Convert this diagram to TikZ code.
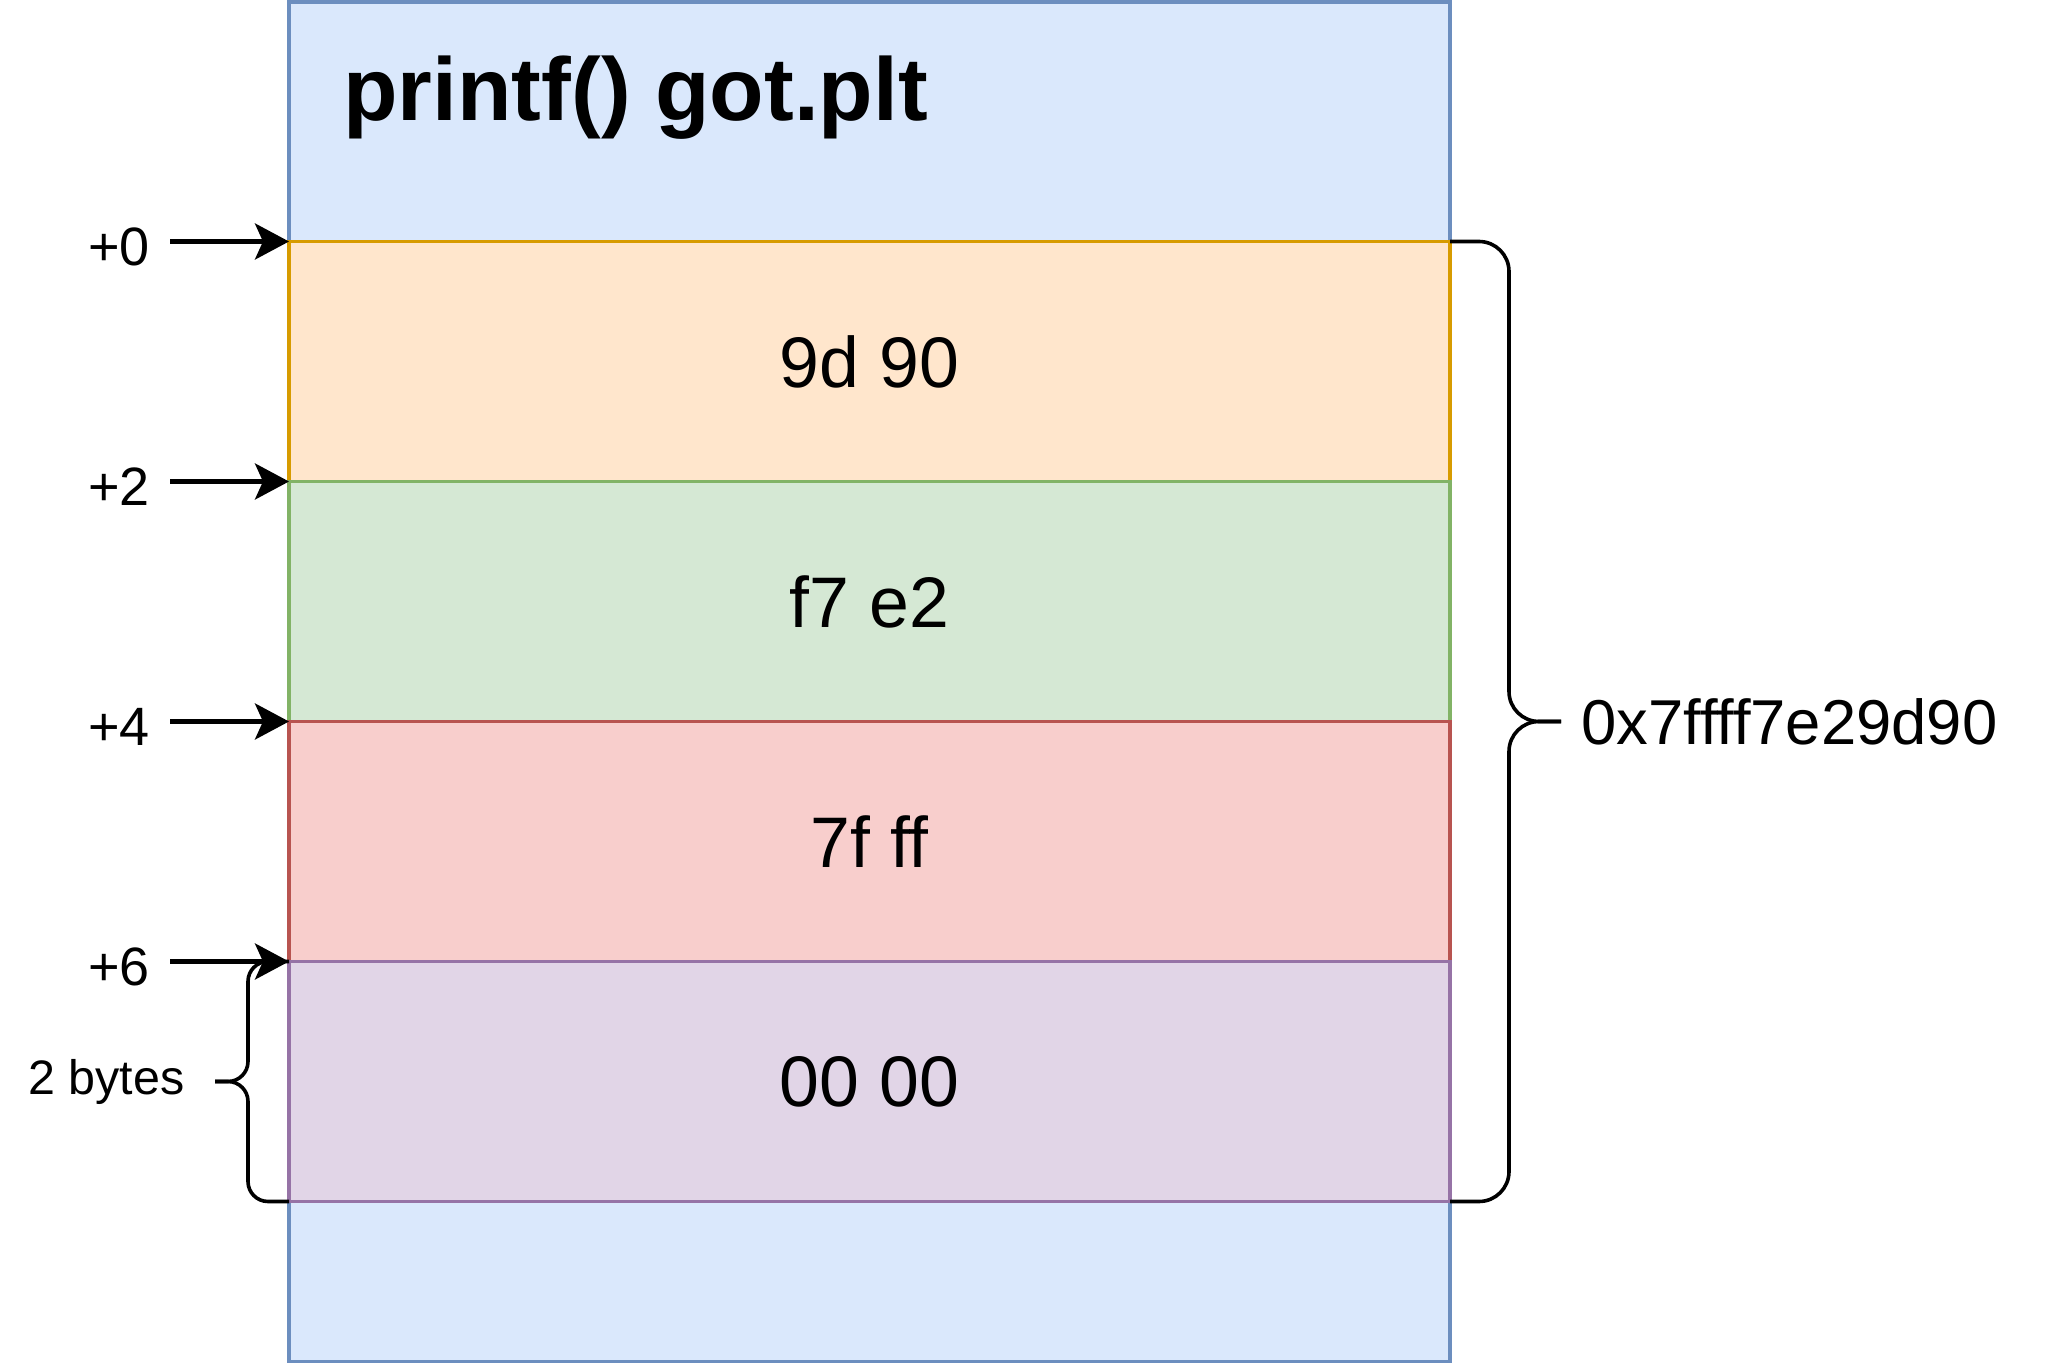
\documentclass[tikz,border=0pt]{standalone}
\usepackage{fontspec}
\setmainfont{Liberation Sans}
\usetikzlibrary{positioning,arrows.meta}

\definecolor{blueFill}{HTML}{DAE8FC}
\definecolor{blueLine}{HTML}{6C8EBF}
\definecolor{orangeFill}{HTML}{FFE6CC}
\definecolor{orangeLine}{HTML}{D79B00}
\definecolor{greenFill}{HTML}{D5E8D4}
\definecolor{greenLine}{HTML}{82B366}
\definecolor{redFill}{HTML}{F8CECC}
\definecolor{redLine}{HTML}{B85450}
\definecolor{purpleFill}{HTML}{E1D5E7}
\definecolor{purpleLine}{HTML}{9673A6}

\begin{document}
\begin{tikzpicture}[
x=0.5pt,
y=-0.5pt,
cell/.style={
draw,
line width=1.8pt,
inner sep=0pt,
outer sep=0pt,
minimum width=580.5pt,
minimum height=120pt,
font=\fontsize{35.8}{42}\selectfont
},
ptr/.style={
-{Stealth[length=17pt,width=18pt,inset=4pt]},
line width=2.2pt
},
brace/.style={
line width=1.8pt
},
offset/.style={
inner sep=0pt,
font=\fontsize{27}{32}\selectfont
}
]

\useasboundingbox (0,0) rectangle (2052,1364);

% whole entry
\node[cell, draw=blueLine, fill=blueFill, minimum height=679.75pt] (mem) at (869.5,681.75)
{};

\node[anchor=base west, inner sep=0pt, font=\fontsize{44.6}{53}\selectfont\bfseries] (ttl) at (343,121)
{printf() got.plt};

% the 8 bytes, 2 per row
\node[cell, draw=orangeLine, fill=orangeFill] (b0) at (869.5,361.5)
{9d 90};

\node[cell, draw=greenLine, fill=greenFill] (b1) at (869.5,601.5)
{f7 e2};

\node[cell, draw=redLine, fill=redFill] (b2) at (869.5,841.5)
{7f ff};

\node[cell, draw=purpleLine, fill=purpleFill] (b3) at (869.5,1081.5)
{00 00};

% offsets
\coordinate (s0) at (170,241.5);
\coordinate (s1) at (170,481.5);
\coordinate (s2) at (170,721.5);
\coordinate (s3) at (170,961.5);

\node[offset, left=10pt of s0, yshift=-2.5pt] (off0) {+0};
\node[offset, left=10pt of s1, yshift=-2.5pt] (off1) {+2};
\node[offset, left=10pt of s2, yshift=-2.5pt] (off2) {+4};
\node[offset, left=10pt of s3, yshift=-2.5pt] (off3) {+6};

% left brace
\coordinate (lx) at (248,1081.5);
\coordinate (ltip) at (215,1081.5);

\draw[brace] (b3.south west) [rounded corners=10pt] -- (b3.south west -| lx) -- (lx) [rounded corners=6pt] -- (ltip);
\draw[brace] (b3.north west) [rounded corners=10pt] -- (b3.north west -| lx) -- (lx) [rounded corners=6pt] -- (ltip);

\node[inner sep=0pt, font=\fontsize{24.2}{29}\selectfont, left=15pt of ltip] (len)
{2 bytes};

\draw[ptr] (s0) -- (b0.north west);
\draw[ptr] (s1) -- (b1.north west);
\draw[ptr] (s2) -- (b2.north west);
\draw[ptr] (s3) -- (b3.north west);

% right brace
\coordinate (rx) at (1509,721.5);
\coordinate (rtip) at (1561,721.5);

\draw[brace] (b0.north east) [rounded corners=15pt] -- (b0.north east -| rx) -- (rx) [rounded corners=7pt] -- (rtip);
\draw[brace] (b3.south east) [rounded corners=15pt] -- (b3.south east -| rx) -- (rx) [rounded corners=7pt] -- (rtip);

\node[inner sep=0pt, font=\fontsize{31.7}{38}\selectfont, right=10pt of rtip] (addr)
{0x7ffff7e29d90};

\end{tikzpicture}
\end{document}
